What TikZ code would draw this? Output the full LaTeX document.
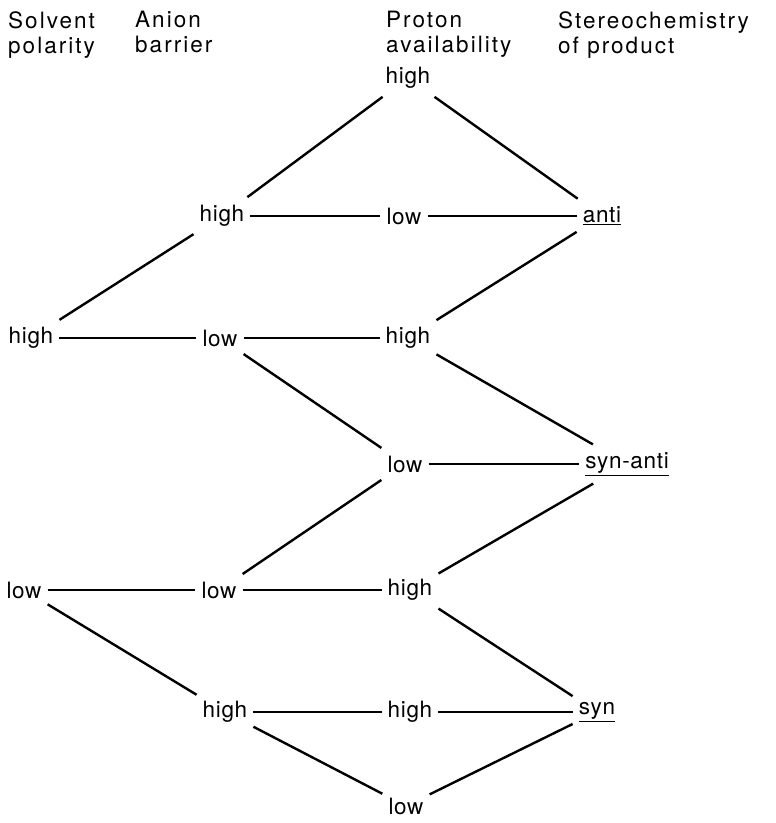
\documentclass[tikz,border=0pt]{standalone}
\usepackage{fontspec}
\setmainfont{TeX Gyre Heros}
\newfontfamily\headfont[LetterSpace=9]{TeX Gyre Heros}
\newfontfamily\valfont[LetterSpace=3]{TeX Gyre Heros}
\usepackage{tikz}

\begin{document}
\begin{tikzpicture}[
x=1pt,y=-1pt,
val/.style={
  inner xsep=6pt,
  inner ysep=8pt,
  font=\valfont\fontsize{22.5}{25}\selectfont
},
head/.style={
  anchor=north west,
  align=left,
  inner sep=0pt,
  font=\headfont\fontsize{22.5}{25}\selectfont
},
link/.style={
  line width=2.4pt
}
]
\useasboundingbox (0,0) rectangle (776,823);

% column headings
\node[head] at (8,11) (hsolv) {Solvent\\polarity};
\node[head] at (135,11) (hanion) {Anion\\barrier};
\node[head] at (386,11) (hproton) {Proton\\availability};
\node[head] at (558,11) (hstereo) {Stereochemistry\\of product};

% solvent polarity
\node[val] at (31,338) (s1) {high};
\node[val] at (24,590) (s2) {low};

% anion barrier
\node[val] at (222,216) (a1) {high};
\node[val] at (220,338) (a2) {low};
\node[val] at (219,590) (a3) {low};
\node[val] at (225,712) (a4) {high};

% proton availability
\node[val] at (408,78) (p1) {high};
\node[val] at (404,216) (p2) {low};
\node[val] at (408,338) (p3) {high};
\node[val] at (405,464) (p4) {low};
\node[val] at (410,590) (p5) {high};
\node[val] at (410,712) (p6) {high};
\node[val] at (406,806) (p7) {low};

% product
\node[val] at (602,216) (anti) {\underline{anti}};
\node[val] at (627,464) (synanti) {\underline{syn-anti}};
\node[val] at (597,712) (syn) {\underline{syn}};

\draw[link] (p1) -- (a1);
\draw[link] (p1) -- (anti);
\draw[link] (a1) -- (p2) -- (anti);
\draw[link] (s1) -- (a1);
\draw[link] (s1) -- (a2) -- (p3);
\draw[link] (a2) -- (p4);
\draw[link] (p3) -- (anti);
\draw[link] (p3) -- (synanti);
\draw[link] (p4) -- (synanti);
\draw[link] (p4) -- (a3);
\draw[link] (s2) -- (a3) -- (p5);
\draw[link] (p5) -- (synanti);
\draw[link] (p5) -- (syn);
\draw[link] (s2) -- (a4);
\draw[link] (a4) -- (p6) -- (syn);
\draw[link] (a4) -- (p7);
\draw[link] (p7) -- (syn);
\end{tikzpicture}
\end{document}
